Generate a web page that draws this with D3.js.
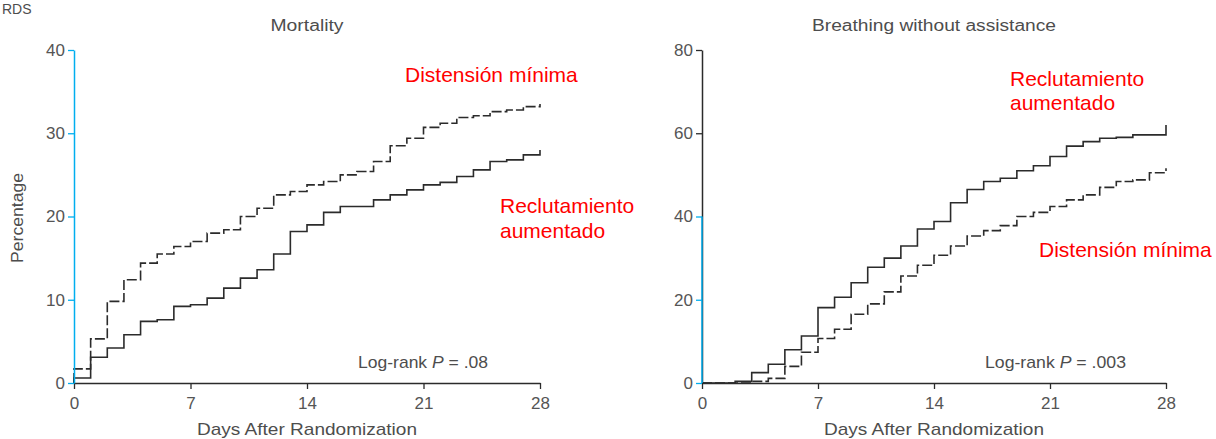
<!DOCTYPE html>
<html>
<head>
<meta charset="utf-8">
<script src="https://cdn.jsdelivr.net/npm/d3@7"></script>
<style>
  body { margin: 0; background: #fff; }
  svg { display: block; font-family: "Liberation Sans", Arial, sans-serif; }
  .tick text { fill: #555; font-size: 17px; }
</style>
</head>
<body>
<svg id="Viz" width="1216" height="439"></svg>
<script>
// days after randomization (step times)
var mortDays = [0,1,2,3,4,5,6,7,8,9,10,11,12,13,14,15,16,17,18,19,20,21,22,23,24,25,26,27,28];
var mortMinDist = [1.7,5.3,9.8,12.4,14.4,15.5,16.4,17.0,18.0,18.4,20.0,21.0,22.6,23.0,23.8,24.2,25.0,25.4,26.6,28.5,29.4,30.7,31.2,31.9,32.1,32.6,32.8,33.2,33.5];
var mortRecruit = [0.6,3.1,4.2,5.8,7.4,7.6,9.2,9.4,10.2,11.4,12.6,13.6,15.5,18.2,19.0,20.5,21.2,21.2,22.0,22.6,23.2,23.8,24.1,24.8,25.6,26.6,26.8,27.4,28.0];

var breathDays = [2,3,4,5,6,7,8,9,10,11,12,13,14,15,16,17,18,19,20,21,22,23,24,25,26,27,28];
var breathRecruit = [0.4,2.5,4.5,8.0,11.3,18.1,20.6,24.1,27.8,30.0,32.9,37.0,38.8,43.3,46.5,48.4,49.2,51.0,52.2,54.4,56.9,58.0,58.8,59.0,59.6,59.6,62.0];
var breathMinDist = [0,0.4,1.1,4.0,7.4,10.7,12.9,16.5,19.0,21.9,25.7,28.3,30.7,32.9,35.3,36.6,37.8,40.0,41.0,42.4,44.0,45.2,47.0,48.4,48.8,50.5,51.6];

var xTicks = [0,7,14,21,28];
var mortTicks = [0,10,20,30,40];
var breathTicks = [0,20,40,60,80];

var svg = d3.select("#Viz");
var blue = "#00aeef", ink = "#2b2b2b", grey = "#4d4d4d";

function series(days, vals) {
  return [[0,0]].concat(days.map(function(d, i) { return [d, vals[i]]; }));
}

function panel(o) {
  var x = d3.scaleLinear().domain([0,28]).range([o.left, o.right]);
  var y = d3.scaleLinear().domain([0,o.ymax]).range([383, 50]);
  var g = svg.append("g");

  var line = d3.line()
    .x(function(d) { return x(d[0]); })
    .y(function(d) { return y(d[1]); })
    .curve(d3.curveStepAfter);

  g.append("path").datum(o.dashed)
    .attr("d", line).attr("fill", "none")
    .attr("stroke", ink).attr("stroke-width", 1.6)
    .attr("stroke-dasharray", "10,3");
  g.append("path").datum(o.solid)
    .attr("d", line).attr("fill", "none")
    .attr("stroke", ink).attr("stroke-width", 1.6);

  // x axis
  var xa = g.append("g").attr("transform", "translate(0,383)")
    .call(d3.axisBottom(x).tickValues(xTicks).tickSize(6).tickSizeOuter(0).tickPadding(8));
  xa.select(".domain").attr("stroke", ink).attr("stroke-width", 1.5);
  xa.selectAll(".tick line").attr("stroke", ink).attr("stroke-width", 1.3);

  // y axis
  var ya = g.append("g").attr("transform", "translate(" + o.left + ",0)")
    .call(d3.axisLeft(y).tickValues(o.ticks).tickSize(6).tickSizeOuter(0).tickPadding(3));
  ya.select(".domain").attr("stroke", o.blueAll ? blue : ink).attr("stroke-width", 1.5);
  ya.selectAll(".tick line").attr("stroke-width", 1.3)
    .attr("stroke", function(d) { return (o.blueAll || d <= 40) ? blue : ink; });
  if (!o.blueAll) {
    ya.append("line").attr("x1", 0).attr("x2", 0)
      .attr("y1", y(0)).attr("y2", y(40))
      .attr("stroke", blue).attr("stroke-width", 1.5);
  }

  // titles
  g.append("text").attr("x", o.titleX).attr("y", 31)
    .attr("text-anchor", "middle").attr("fill", grey).attr("font-size", 16)
    .attr("textLength", o.titleW).attr("lengthAdjust", "spacingAndGlyphs")
    .text(o.title);
  g.append("text").attr("x", (o.left + o.right) / 2).attr("y", 435)
    .attr("text-anchor", "middle").attr("fill", grey).attr("font-size", 17)
    .attr("textLength", 220).attr("lengthAdjust", "spacingAndGlyphs")
    .text("Days After Randomization");

  var lr = g.append("text").attr("x", o.pX).attr("y", 368)
    .attr("fill", grey).attr("font-size", 17)
    .attr("textLength", o.pW).attr("lengthAdjust", "spacingAndGlyphs");
  lr.append("tspan").text("Log-rank ");
  lr.append("tspan").attr("font-style", "italic").text("P");
  lr.append("tspan").text(" = " + o.p);

  // red labels
  o.labels.forEach(function(l) {
    g.append("text").attr("x", l[0]).attr("y", l[1])
      .attr("fill", "#ff0000").attr("font-size", 21)
      .attr("font-family", "Arial, 'Liberation Sans', sans-serif")
      .text(l[2]);
  });
}

panel({
  left: 74, right: 540, ymax: 40, ticks: mortTicks, blueAll: true,
  dashed: series(mortDays, mortMinDist), solid: series(mortDays, mortRecruit),
  title: "Mortality", titleX: 307, titleW: 73,
  pX: 358, pW: 130, p: ".08",
  labels: [[405, 82, "Distensión mínima"], [500, 213, "Reclutamiento"], [500, 238, "aumentado"]]
});

panel({
  left: 702, right: 1166, ymax: 80, ticks: breathTicks, blueAll: false,
  dashed: series(breathDays, breathMinDist), solid: series(breathDays, breathRecruit),
  title: "Breathing without assistance", titleX: 934, titleW: 244,
  pX: 985, pW: 141, p: ".003",
  labels: [[1010, 86, "Reclutamiento"], [1010, 110, "aumentado"], [1039, 257, "Distensión mínima"]]
});

// y label and corner label
svg.append("text")
  .attr("transform", "translate(23,218) rotate(-90)")
  .attr("text-anchor", "middle").attr("fill", grey).attr("font-size", 16)
  .attr("textLength", 90).attr("lengthAdjust", "spacingAndGlyphs")
  .text("Percentage");

svg.append("text").attr("x", 2).attr("y", 14)
  .attr("fill", grey).attr("font-size", 14)
  .text("RDS");
</script>
</body>
</html>
